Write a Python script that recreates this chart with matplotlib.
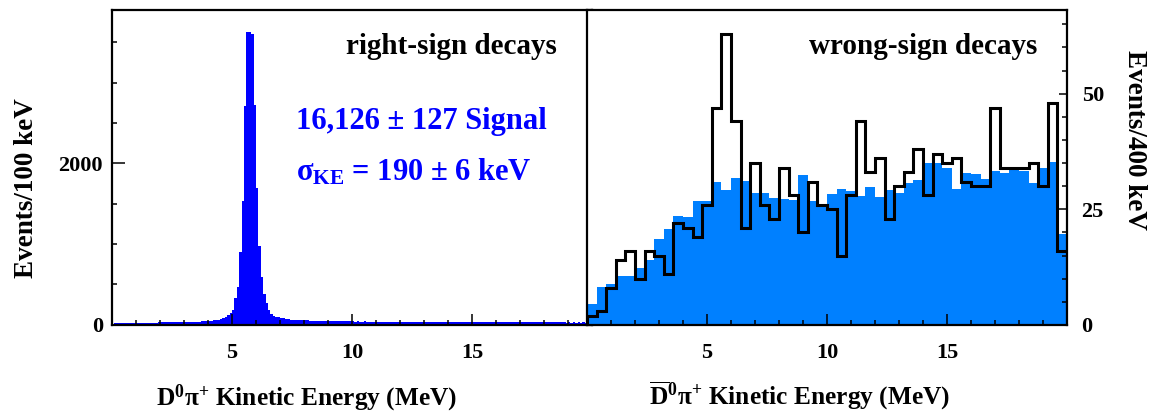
import numpy as np
import matplotlib.pyplot as plt
from matplotlib.ticker import MultipleLocator

plt.rcParams['font.family'] = ['Liberation Serif', 'DejaVu Serif']
plt.rcParams['font.weight'] = 'bold'
plt.rcParams['mathtext.fontset'] = 'custom'
plt.rcParams['mathtext.rm'] = 'Liberation Serif:bold'
plt.rcParams['mathtext.bf'] = 'Liberation Serif:bold'
plt.rcParams['mathtext.it'] = 'Liberation Serif:bold'

# right-sign D0 pi+ kinetic energy, 100 keV bins from 0 to 20 MeV
rs_counts = [
    12, 14, 13, 15, 16, 15, 17, 16, 18, 17,
    20, 19, 21, 22, 21, 23, 22, 24, 23, 25,
    26, 25, 27, 28, 27, 29, 30, 29, 31, 30,
    32, 33, 32, 34, 35, 34, 36, 38, 40, 42,
    45, 48, 52, 58, 62, 70, 80, 95, 115, 140,
    185, 325, 470, 904, 1530, 2705, 3625, 3625, 3600, 2720,
    1690, 970, 585, 380, 270, 175, 128, 105, 95, 88,
    80, 75, 70, 66, 62, 60, 58, 56, 54, 52,
    51, 50, 49, 48, 47, 46, 46, 45, 44, 43,
    43, 42, 42, 41, 41, 40, 40, 39, 39, 38,
    38, 37, 38, 37, 37, 38, 37, 36, 37, 36,
    36, 35, 36, 35, 35, 34, 35, 34, 34, 33,
    34, 33, 33, 32, 33, 32, 32, 31, 32, 31,
    31, 30, 31, 30, 30, 30, 31, 30, 30, 31,
    30, 29, 30, 29, 29, 30, 29, 28, 29, 28,
    28, 29, 28, 28, 29, 28, 28, 27, 28, 27,
    28, 27, 28, 27, 27, 26, 27, 26, 27, 26,
    26, 27, 26, 26, 27, 26, 26, 25, 26, 25,
    26, 25, 25, 26, 25, 25, 26, 25, 25, 24,
    25, 24, 25, 24, 25, 24, 25, 24, 25, 24,
]

# wrong-sign, 400 keV bins: data (black line) and expected shape (filled)
ws_data = [
    2, 3, 8, 14, 16, 10, 16, 15, 11, 22,
    21, 19, 26, 47, 63, 44, 21, 35, 26, 23,
    34, 28, 20, 31, 26, 25, 15, 28, 44, 33,
    36, 23, 30, 33, 38, 28, 37, 35, 36, 31,
    30, 30, 47, 34, 34, 34, 35, 30, 48, 16,
]
ws_bkg = [
    4.5, 8.3, 8.8, 10.7, 10.7, 12.3, 14.0, 18.6, 20.7, 23.6,
    23.4, 26.7, 26.9, 31.0, 29.2, 31.7, 31.2, 28.6, 28.5, 27.4,
    27.2, 27.0, 32.4, 26.7, 26.0, 28.3, 29.3, 29.0, 27.8, 29.8,
    27.6, 29.2, 28.6, 30.6, 31.4, 35.1, 35.0, 33.9, 29.3, 32.8,
    32.7, 31.5, 33.2, 32.8, 33.7, 33.2, 30.8, 33.9, 35.2, 19.7,
]

ke_max = 20.0
rs_edges = np.linspace(0, ke_max, len(rs_counts) + 1)
ws_edges = np.linspace(0, ke_max, len(ws_data) + 1)

W, H = 1156, 415
fig = plt.figure(figsize=(W / 100, H / 100), dpi=100)
ax1 = fig.add_axes([112 / W, 1 - 324.5 / H, 480 / W, 314.5 / H])
ax2 = fig.add_axes([587 / W, 1 - 325 / H, 480 / W, 315 / H])

ax1.stairs(rs_counts, rs_edges, fill=True, color='#0000ff', lw=0)
ax2.stairs(ws_bkg, ws_edges, fill=True, color='#0080ff', lw=0)
ax2.stairs(ws_data, ws_edges, color='black', lw=2.2)

ax1.set_xlim(0, ke_max)
ax1.set_ylim(0, 3902)
ax2.set_xlim(0, ke_max)
ax2.set_ylim(0, 68.1)

for ax in (ax1, ax2):
    ax.set_xticks([5, 10, 15])
    ax.xaxis.set_minor_locator(MultipleLocator(1))
    ax.tick_params(which='both', direction='in', top=False, width=1.1,
                   labelsize=16)
    ax.tick_params(axis='x', which='major', length=8, pad=13)
    ax.tick_params(axis='x', which='minor', length=3.5)
    for s in ax.spines.values():
        s.set_linewidth(1.6)

ax1.set_yticks([0, 2000])
ax1.yaxis.set_minor_locator(MultipleLocator(500))
ax1.tick_params(axis='y', which='major', length=9, pad=6.5)
ax1.tick_params(axis='y', which='minor', length=3.5)
ax1.tick_params(axis='y', right=False)

ax2.set_yticks([0, 25, 50])
ax2.yaxis.set_minor_locator(MultipleLocator(5))
ax2.tick_params(axis='y', which='both', left=False, right=True,
                labelleft=False, labelright=True)
ax2.tick_params(axis='y', which='major', length=6, pad=10.5)
ax2.tick_params(axis='y', which='minor', length=3.5)

# panel annotations
ax1.text(557 / W, 1 - 46 / H, 'right-sign decays', transform=fig.transFigure,
         ha='right', va='center', fontsize=21)
ax2.text(1037 / W, 1 - 46 / H, 'wrong-sign decays', transform=fig.transFigure,
         ha='right', va='center', fontsize=21)
fig.text(296 / W, 1 - 122 / H, '16,126 \u00b1 127 Signal', color='#0000ff',
         ha='left', va='center', fontsize=22)
fig.text(296 / W, 1 - 172 / H, r'$\sigma_{KE}$ = 190 $\pm$ 6 keV',
         color='#0000ff', ha='left', va='center', fontsize=22)

# axis titles
fig.text(27 / W, 1 - 188 / H, 'Events/100 keV', rotation=90,
         ha='center', va='center', fontsize=19.5)
fig.text(1134 / W, 1 - 140 / H, 'Events/400 keV', rotation=-90,
         ha='center', va='center', fontsize=19.5)
fig.text(307 / W, 1 - 398 / H, r'$\mathbf{D^{0}\pi^{+}}$ Kinetic Energy (MeV)',
         ha='center', va='center', fontsize=18.3)
fig.text(800 / W, 1 - 396 / H,
         r'$\mathbf{\overline{D}^{0}\pi^{+}}$ Kinetic Energy (MeV)',
         ha='center', va='center', fontsize=18.3)

fig.savefig('out.png', dpi=100)
